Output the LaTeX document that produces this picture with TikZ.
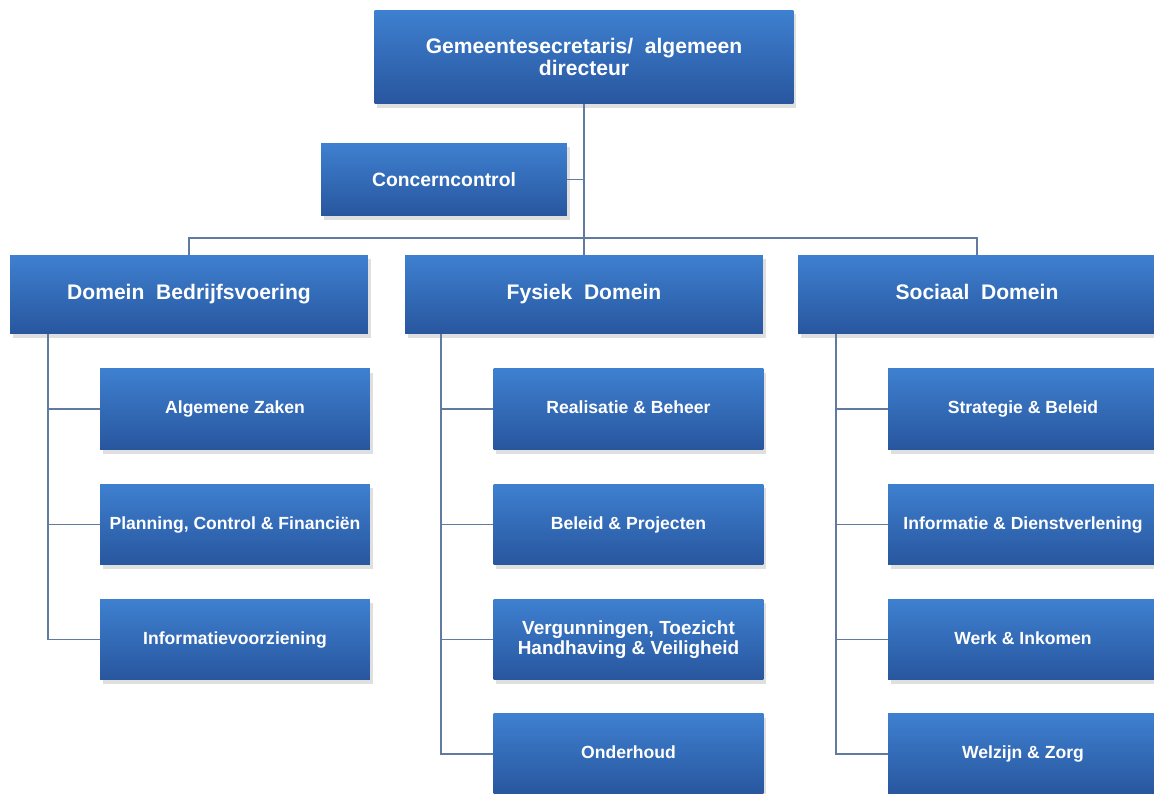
\documentclass[tikz,border=0pt]{standalone}
\usepackage{fontspec}
\setmainfont{Liberation Sans}
\usetikzlibrary{shadows}
\definecolor{boxtop}{RGB}{62,128,208}
\definecolor{boxbot}{RGB}{40,86,158}
\definecolor{lijnkleur}{RGB}{96,122,160}
\begin{document}
\begin{tikzpicture}[x=0.02cm,y=-0.02cm,
    blok/.style={rectangle,top color=boxtop,bottom color=boxbot,draw=none,
      text=white,align=center,inner sep=2pt,
      drop shadow={opacity=0.25,shadow xshift=1.5pt,shadow yshift=-2.5pt}},
    kop/.style={blok,minimum width=7.16cm,minimum height=1.58cm,
      text height=0.75em,text depth=0.2em,
      font=\fontsize{12}{13}\selectfont\bfseries},
    afd/.style={blok,minimum width=5.4cm,minimum height=1.62cm,
      text height=0.75em,text depth=0.2em,
      font=\fontsize{10}{11}\selectfont\bfseries},
    lijn/.style={draw=lijnkleur,line width=0.8pt}]
  \useasboundingbox (0,0) rectangle (1154,794);
  \clip (0,0) rectangle (1154,794);
  \fill[white] (0,0) rectangle (1154,794);
  % top
  \node[blok,minimum width=8.38cm,minimum height=1.88cm,
    font=\fontsize{12}{13}\selectfont\bfseries] (gs) at(584,57)
    {Gemeentesecretaris/\ \ algemeen\\directeur};
  \node[blok,minimum width=4.92cm,minimum height=1.46cm,
    font=\fontsize{11}{12}\selectfont\bfseries] (cc) at(444,179.5) {Concerncontrol};
  % domeinen
  \node[kop] (bv) at(189,294.5) {Domein\ \ Bedrijfsvoering};
  \node[kop] (fd) at(584,294.5) {Fysiek\ \ Domein};
  \node[kop] (sd) at(977,294.5) {Sociaal\ \ Domein};
  % afdelingen
  \node[afd] (az) at(235,409) {Algemene Zaken};
  \node[afd] (pc) at(235,524.5) {Planning, Control \& Financi\"en};
  \node[afd] (iv) at(235,639.5) {Informatievoorziening};
  \node[afd] (rb) at(628.5,409) {Realisatie \& Beheer};
  \node[afd] (bp) at(628.5,524.5) {Beleid \& Projecten};
  \node[afd,text height={},text depth={},
    font=\fontsize{10.8}{9.6}\selectfont\bfseries] (vt) at(628.5,639.5)
    {Vergunningen, Toezicht\\Handhaving \& Veiligheid};
  \node[afd] (oh) at(628.5,754) {Onderhoud};
  \node[afd] (sb) at(1023,409) {Strategie \& Beleid};
  \node[afd] (id) at(1023,524.5) {Informatie \& Dienstverlening};
  \node[afd] (wi) at(1023,639.5) {Werk \& Inkomen};
  \node[afd] (wz) at(1023,754) {Welzijn \& Zorg};
  \coordinate (bar) at(584,238);
  \coordinate (tb) at(48,334);
  \coordinate (tf) at(441,334);
  \coordinate (ts) at(836,334);
  \draw[lijn] (gs.south)-- (fd.north);
  \draw[lijn] (cc.east)-- (cc.east -| gs.south);
  \draw[lijn] (bv.north) |- (bar) -| (sd.north);
  \draw[lijn] (tb) |- (az.west);
  \draw[lijn] (tb) |- (pc.west);
  \draw[lijn] (tb) |- (iv.west);
  \draw[lijn] (tf) |- (rb.west);
  \draw[lijn] (tf) |- (bp.west);
  \draw[lijn] (tf) |- (vt.west);
  \draw[lijn] (tf) |- (oh.west);
  \draw[lijn] (ts) |- (sb.west);
  \draw[lijn] (ts) |- (id.west);
  \draw[lijn] (ts) |- (wi.west);
  \draw[lijn] (ts) |- (wz.west);
\end{tikzpicture}
\end{document}
